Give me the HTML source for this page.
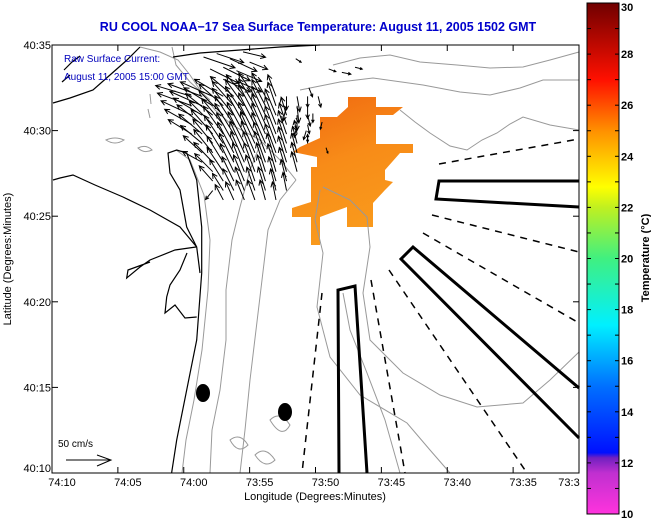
<!DOCTYPE html>
<html><head><meta charset="utf-8"><style>
body{margin:0;background:#fff;}
svg{display:block;font-family:"Liberation Sans",sans-serif;}
</style></head><body>
<svg id="s" width="651" height="518" viewBox="0 0 651 518">
<defs>
<linearGradient id="cb" x1="0" y1="1" x2="0" y2="0">
<stop offset="0" stop-color="#ff33dd"/><stop offset="0.08" stop-color="#c030d0"/><stop offset="0.11" stop-color="#7020c0"/>
<stop offset="0.12" stop-color="#0010ff"/><stop offset="0.25" stop-color="#0070ff"/><stop offset="0.37" stop-color="#00f0ff"/>
<stop offset="0.5" stop-color="#40f080"/><stop offset="0.6" stop-color="#c0f020"/><stop offset="0.64" stop-color="#ffff00"/>
<stop offset="0.75" stop-color="#ff9000"/><stop offset="0.85" stop-color="#ff1000"/><stop offset="1" stop-color="#700000"/>
</linearGradient>
<linearGradient id="og" x1="0" y1="0" x2="0.3" y2="1">
<stop offset="0" stop-color="#f06810"/><stop offset="0.5" stop-color="#f88c18"/><stop offset="1" stop-color="#f99a1c"/>
</linearGradient>
</defs>
<text x="318" y="31" text-anchor="middle" font-size="12.5" font-weight="bold" fill="#0000cc">RU COOL  NOAA−17  Sea Surface Temperature:  August 11, 2005 1502 GMT</text>
<g id="map">
<polygon fill="url(#og)" points="348,97 376,97 376,107 403,107 393,115 376,115 376,144 413,144 413,153 400,153 385,170 385,180 393,182 385,190 373,203 373,227 347,227 347,207 320,217 320,245 311,245 311,217 292,217 292,208 311,202 311,167 317,167 317,157 293,152 300,147 320,138 320,117 337,117 348,107"/>
<g fill="none" stroke="#999" stroke-width="1">
<path d="M333,65 L360,58 390,55 420,62 457,65 490,68 523,67 550,60 579,52"/>
<path d="M300,90 L340,82 373,78 423,85 460,92 490,95 520,88 543,80 579,80"/>
<path d="M400,110 L415,122 430,133 450,146 467,150 482,140 497,133 510,124 523,117 550,125 579,130"/>
<path d="M323,187 L350,200 367,217 370,247 363,293 370,340 403,373 440,395 477,407 523,403 550,380 579,352"/>
<path d="M320,190 L315,220 323,253 317,307 330,357 360,395 407,423 430,450 450,473"/>
<path d="M343,293 L350,330 367,373 385,420 400,473"/>
<path d="M182,473 L186,440 194,400 202,350 208,290 210,240 204,195 190,160 176,150"/>
<path d="M210,473 L212,430 220,390 226,340 226,290 232,240 240,207 250,170 262,140"/>
<path d="M240,473 L245,430 250,380 256,330 262,280 268,230 280,200 296,180"/>
<path d="M140,47 L160,52 178,60 190,75 200,90 215,110 232,125 260,140 280,160 296,180"/>
<path d="M172,47 L176,65 190,82 210,100"/>
<path d="M106,140 Q115,136 124,140 Q115,146 106,140 Z M138,148 Q146,144 152,150 Q144,154 138,148 Z"/>
<path d="M148,109 L150,118 M150,94 L151,104"/>
<path d="M270,420 Q280,410 290,425 Q282,440 270,420 Z M230,440 Q240,432 248,445 Q238,455 230,440 Z M255,455 Q265,445 275,460 Q265,470 255,455 Z"/>
</g>
<g fill="none" stroke="#000" stroke-width="1.2">
<path d="M171.6,473 L176.7,440 186.7,390 196.7,340 201.7,273 201.7,227 196.7,180 186.7,153 176.7,150 168,153 170,173 180,190 186.7,227 196.7,247 200,273"/>
<path d="M53,180 L60,178 73,175 95,185 123,197 150,210 180,227 196.7,247"/>
<path d="M196,247 L175,250 150,260 140,267 126.7,278 128,270 150,262"/>
<path d="M187,253 L180,270 170,285 166.7,297 165,313 175,305 185,318 196.7,317"/>
<path d="M53,103 L70,98 93,90 110,75 127,60 140,47"/>
<path d="M173,57 L200,53 240,50 280,47 320,45"/>
<path d="M64,70 L72,62 80,56 M62,82 L70,75"/>
</g>
<g fill="none" stroke="#000" stroke-width="1.5" stroke-dasharray="7,6">
<line x1="439" y1="164" x2="579" y2="139"/>
<line x1="432" y1="215" x2="579" y2="252"/>
<line x1="423" y1="233" x2="579" y2="323"/>
<line x1="389" y1="270" x2="527" y2="473"/>
<line x1="371" y1="280" x2="405" y2="473"/>
<line x1="322" y1="293" x2="302" y2="473"/>
</g>
<g fill="none" stroke="#000" stroke-width="3">
<polyline points="339,473 338,290 355,286 367,473"/>
<polyline points="579,181 439,181 436,199 579,207"/>
<polyline points="579,388 413,247 401,259 579,438"/>
</g>
<ellipse cx="203" cy="393" rx="7" ry="9" fill="#000"/>
<ellipse cx="285" cy="412" rx="7" ry="9" fill="#000"/>
<g id="arrows" stroke="#000" stroke-width="1" fill="none"></g>
<text x="64" y="62" font-size="10" fill="#0000bb">Raw Surface Current:</text>
<text x="64" y="80" font-size="10" fill="#0000bb">August 11, 2005 15:00 GMT</text>
<text x="58" y="447" font-size="10" fill="#000">50 cm/s</text>
<g stroke="#000" fill="none"><line x1="66" y1="460" x2="111" y2="460"/><polyline points="97,455 111,460 97,466"/></g>
</g>
<rect x="52" y="45" width="527" height="428" fill="none" stroke="#000" stroke-width="1"/>
<g id="axes" font-size="11" fill="#000"></g>
<text x="315" y="500" text-anchor="middle" font-size="11">Longitude (Degrees:Minutes)</text>
<text transform="translate(11,259) rotate(-90)" text-anchor="middle" font-size="11">Latitude (Degrees:Minutes)</text>
<rect x="587" y="3" width="32" height="511" fill="url(#cb)" stroke="#000" stroke-width="1"/>
<g id="cbt" font-size="11" font-weight="bold" fill="#000"></g>
<text transform="translate(649,258) rotate(-90)" text-anchor="middle" font-size="11" font-weight="bold">Temperature (°C)</text>
</svg>
<script>
const xTickLabels=["74:10","74:05","74:00","73:55","73:50","73:45","73:40","73:35","73:3"];
const yTickLabels=["40:10","40:15","40:20","40:25","40:30","40:35"];
const cbTicks=[10,12,14,16,18,20,22,24,26,28,30];
// gridded current field: lon minutes east of 74:10, lat minutes north of 40:10, u/v in cm/s (0,0 = no data)
const gridLon=[10.6,11.4,12.2,13.0,13.8,14.6,15.4,16.2,17.0,17.8,18.6,19.4];
const gridLat=[22.0,21.45,20.9,20.35,19.8,19.25,18.7,18.15,17.6,17.05,16.5,15.95];
const gridU=[
[-40,-38,-36,-32,-26,-20,-18,-15,-9,0,3,0],
[-38,-36,-32,-27,-24,-21,-18,-15,-9,-4,2,0],
[-34,-32,-30,-27,-24,-21,-18,-15,-12,-6,0,3],
[-30,-28,-26,-24,-21,-19,-18,-15,-12,-8,-3,2],
[-26,-26,-24,-22,-21,-19,-18,-15,-12,-9,-3,0],
[0,-24,-22,-21,-19,-18,-16,-15,-12,-9,-5,0],
[0,-21,-21,-19,-18,-16,-15,-13,-12,-9,-6,0],
[0,-22,-21,-18,-16,-15,-13,-12,-10,-9,-6,0],
[0,0,-20,-18,-15,-13,-12,-10,-9,-8,-6,0],
[0,0,-15,-15,-13,-12,-10,-9,-8,-6,0,0],
[0,0,-8,-12,-12,-10,-9,-8,-6,-4,0,0],
[0,0,0,-9,-9,-9,-8,-6,-4,0,0,0]];
const gridV=[
[12,14,16,19,22,24,26,26,24,-15,-17,-12],
[14,16,20,24,27,29,30,29,26,-17,-19,-14],
[16,19,24,27,30,32,34,32,29,20,-17,-12],
[17,22,26,29,32,34,35,34,31,24,-14,-10],
[16,22,27,31,34,35,35,34,31,26,15,-9],
[0,20,27,31,34,35,35,34,32,27,19,10],
[0,19,26,31,34,35,35,34,32,29,22,0],
[0,12,22,29,32,34,34,34,32,29,22,0],
[0,0,20,27,31,32,32,32,31,27,22,0],
[0,0,17,24,27,29,29,29,27,24,0,0],
[0,0,-10,19,24,26,26,26,24,20,0,0],
[0,0,0,17,20,22,22,22,20,0,0,0]];
// scattered extra vectors
const vecLon=[11.5,12.5,13.5,12,13,14,15,14.5,13,14,19.5,20.2,19.8,20.5,19.3,20.8,21,22,23,18.5];
const vecLat=[24.3,24.5,24.2,23.6,23.7,23.5,24,24.6,23,22.9,22.5,22,21,20.5,20,19,23.6,23.4,23.7,24.2];
const vecU=[35,30,30,32,30,28,20,25,30,28,4,3,0,-2,-3,2,8,10,8,6];
const vecV=[-12,-10,-14,-16,-15,-12,-8,-6,-14,-12,-10,-12,-10,-8,-10,-6,-3,-2,-2,-4];
const X0=52,X1=579,Y0=473,Y1=45;
const xs=m=>X0+m*(X1-X0)/40, ys=m=>Y0-m*(Y0-Y1)/25, PX=0.9;
const NS="http://www.w3.org/2000/svg";
function mk(t,a,p){const e=document.createElementNS(NS,t);for(const k in a)e.setAttribute(k,a[k]);p.appendChild(e);return e;}
const ar=document.getElementById('arrows');
function arrow(lon,lat,u,v){
 if(u===0&&v===0)return;
 const x=xs(lon),y=ys(lat),dx=u*PX,dy=-v*PX;
 const x2=x+dx,y2=y+dy,L=Math.hypot(dx,dy)||1,ux=dx/L,uy=dy/L,h=Math.min(5,L*0.3);
 const p=mk('path',{d:`M${x},${y}L${x2},${y2}M${x2-h*ux+h*0.5*uy},${y2-h*uy-h*0.5*ux}L${x2},${y2}L${x2-h*ux-h*0.5*uy},${y2-h*uy+h*0.5*ux}`},ar);
 
 
}
gridLat.forEach((la,r)=>gridLon.forEach((lo,c)=>arrow(lo,la,gridU[r][c],gridV[r][c])));
for(let i=0;i<vecLon.length;i++)arrow(vecLon[i],vecLat[i],vecU[i],vecV[i]);
const ax=document.getElementById('axes');
xTickLabels.forEach((l,i)=>{const x=xs(i*5);
 const t=mk('line',{x1:x,y1:Y0,x2:x,y2:Y0-6,stroke:'#000'},ax);
 
 
 const t2=mk('line',{x1:x,y1:Y1,x2:x,y2:Y1+6,stroke:'#000'},ax);
 
 
 const tx=mk('text',{x:i==8?x-10:x+10,y:Y0+13,'text-anchor':'middle'},ax);tx.textContent=l;
 
 
});
yTickLabels.forEach((l,i)=>{const y=ys(i*5);
 const t=mk('line',{x1:X0,y1:y,x2:X0+6,y2:y,stroke:'#000'},ax);
 
 
 const t2=mk('line',{x1:X1,y1:y,x2:X1-6,y2:y,stroke:'#000'},ax);
 
 
 const tx=mk('text',{x:X0-1,y:i==0?y-1:y+4,'text-anchor':'end'},ax);tx.textContent=l;
 
 
});
const cb=document.getElementById('cbt');
const cy=v=>514-(v-10)*511/20;
for(let v=10;v<=30;v++){
 const t=mk('line',{x1:587,y1:cy(v),x2:591,y2:cy(v),stroke:'#000'},cb);
 
 
 const t2=mk('line',{x1:619,y1:cy(v),x2:615,y2:cy(v),stroke:'#000'},cb);
 
 
}
cbTicks.forEach(v=>{
 const tx=mk('text',{x:621,y:Math.min(Math.max(cy(v)+4,11),518)},cb);tx.textContent=v;
 
 
});
</script>
</body></html>
